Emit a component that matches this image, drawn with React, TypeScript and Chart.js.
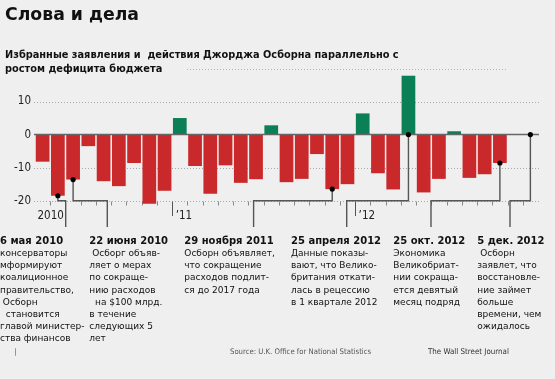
import React, { useEffect, useRef } from "react";
import { Chart, registerables } from "chart.js";

Chart.register(...registerables);

// ---------- DATA ----------
const months = [
  "апр 2010", "май 2010", "июн 2010", "июл 2010", "авг 2010", "сен 2010", "окт 2010", "ноя 2010", "дек 2010",
  "янв 2011", "фев 2011", "мар 2011", "апр 2011", "май 2011", "июн 2011", "июл 2011", "авг 2011", "сен 2011", "окт 2011", "ноя 2011", "дек 2011",
  "янв 2012", "фев 2012", "мар 2012", "апр 2012", "май 2012", "июн 2012", "июл 2012", "авг 2012", "сен 2012", "окт 2012", "ноя 2012", "дек 2012",
];

const deficitChange: (number | null)[] = [
  -8.2, -18.5, -13.6, -3.5, -14.1, -15.6, -8.6, -20.9, -17.0,
  5.0, -9.5, -17.9, -9.3, -14.6, -13.5, 2.8, -14.4, -13.4, -5.9, -16.5, -15.0,
  6.4, -11.7, -16.6, 17.8, -17.5, -13.4, 1.0, -13.1, -12.0, -8.6, null, null,
];

const yTicks = [-20, -10, 0, 10];
const yearLabels = ["2010", "’11", "’12"];
const yearStartIndex = [0, 9, 21];

const titleText = "Слова и дела";
const subtitleLines = [
  "Избранные заявления и  действия Джорджа Осборна параллельно с",
  "ростом дефицита бюджета",
];

const eventMonthIndex = [1, 2, 19, 24, 30, 32];
const eventDates = ["6 мая 2010", "22 июня 2010", "29 ноября 2011", "25 апреля 2012", "25 окт. 2012", "5 дек. 2012"];
const eventTexts: string[][] = [
  ["консерваторы", "мформируют", "коалиционное", "правительство,", " Осборн", "  становится", "главой министер-", "ства финансов"],
  [" Осборг объяв-", "ляет о мерах", "по сокраще-", "нию расходов", "  на $100 млрд.", "в течение", "следующих 5", "лет"],
  ["Осборн объявляет,", "что сокращение", "расходов подлит-", "ся до 2017 года"],
  ["Данные показы-", "вают, что Велико-", "британия откати-", "лась в рецессию", "в 1 квартале 2012"],
  ["Экономика", "Великобриат-", "нии сокраща-", "ется девятый", "месяц подряд"],
  [" Осборн", "заявлет, что", "восстановле-", "ние займет", "больше", "времени, чем", "ожидалось"],
];

const sourceText = "Source: U.K. Office for National Statistics";
const brandText = "The Wall Street Journal";

// ---------- LAYOUT (pixels) ----------
const W = 555;
const H = 379;
const eventTextX = [0, 89.3, 184.3, 291, 393.3, 477.3];
const eventDropX = [65.7, 107.3, 253.6, 346.7, 431, 510];
const dropBottomY = 227;
const textTopY = 241.5;
const textLineH = 12.2;

const RED = "#c9292b";
const GREEN = "#0b7f55";
const BG = "#efefef";
const NARROW = '"Liberation Sans Narrow", "DejaVu Sans Condensed", sans-serif';
const GEO = '"DejaVu Sans", sans-serif';

const decorPlugin = {
  id: "decor",
  beforeDatasetsDraw(chart: any) {
    const { ctx, chartArea, scales } = chart;
    const x = scales.x;
    const y = scales.y;
    const left = chartArea.left - 1;
    const right = chartArea.right + 1;
    ctx.save();
    // dotted gridlines
    ctx.strokeStyle = "#a8a8a8";
    ctx.lineWidth = 1;
    ctx.setLineDash([1, 2]);
    yTicks.forEach((v) => {
      if (v === 0) return;
      const py = Math.round(y.getPixelForValue(v)) + 0.5;
      ctx.beginPath();
      ctx.moveTo(left, py);
      ctx.lineTo(right, py);
      ctx.stroke();
    });
    ctx.setLineDash([]);
    // month ticks along the -20 line
    const base = Math.round(y.getPixelForValue(-20)) + 0.5;
    const step = x.getPixelForValue(1) - x.getPixelForValue(0);
    for (let i = 1; i < months.length; i++) {
      const px = Math.round(x.getPixelForValue(i) - step / 2) + 0.5;
      const isYear = yearStartIndex.indexOf(i) > 0;
      ctx.strokeStyle = isYear ? "#555" : "#888";
      ctx.lineWidth = 1;
      ctx.beginPath();
      ctx.moveTo(px, base);
      ctx.lineTo(px, base + (isYear ? 14.5 : 4));
      ctx.stroke();
    }
    // year labels
    ctx.fillStyle = "#222";
    ctx.font = `11.5px ${NARROW}`;
    ctx.textBaseline = "middle";
    yearLabels.forEach((lab, k) => {
      const i = yearStartIndex[k];
      if (k === 0) {
        ctx.textAlign = "center";
        ctx.fillText(lab, x.getPixelForValue(i) + step * 0.53, base + 14.5);
      } else {
        ctx.textAlign = "left";
        ctx.fillText(lab, x.getPixelForValue(i) - step / 2 + 3.5, base + 14.5);
      }
    });
    ctx.restore();
  },
  afterDatasetsDraw(chart: any) {
    const { ctx, chartArea, scales } = chart;
    const x = scales.x;
    const y = scales.y;
    ctx.save();
    // zero line
    const zy = y.getPixelForValue(0);
    ctx.strokeStyle = "#666";
    ctx.lineWidth = 1.5;
    ctx.beginPath();
    ctx.moveTo(chartArea.left - 1, zy);
    ctx.lineTo(chartArea.right + 1, zy);
    ctx.stroke();

    // leader lines and dots
    const base = y.getPixelForValue(-20);
    ctx.strokeStyle = "#555";
    ctx.lineWidth = 1.4;
    eventMonthIndex.forEach((mi, k) => {
      const v = deficitChange[mi];
      const anchor = v === null || v > 0 ? 0 : v;
      const px = x.getPixelForValue(mi);
      const py = y.getPixelForValue(anchor);
      const dx = eventDropX[k];
      ctx.beginPath();
      ctx.moveTo(px, py);
      ctx.lineTo(px, base);
      ctx.lineTo(dx, base);
      ctx.lineTo(dx, dropBottomY);
      ctx.stroke();
    });
    ctx.fillStyle = "#000";
    eventMonthIndex.forEach((mi) => {
      const v = deficitChange[mi];
      const anchor = v === null || v > 0 ? 0 : v;
      ctx.beginPath();
      ctx.arc(x.getPixelForValue(mi), y.getPixelForValue(anchor), 2.6, 0, Math.PI * 2);
      ctx.fill();
    });

    // annotation texts
    ctx.textAlign = "left";
    ctx.textBaseline = "middle";
    ctx.fillStyle = "#111";
    eventDates.forEach((d, k) => {
      ctx.font = `bold 10px ${GEO}`;
      ctx.fillText(d, eventTextX[k], textTopY);
      ctx.font = `9px ${GEO}`;
      eventTexts[k].forEach((line, j) => {
        ctx.fillText(line, eventTextX[k], textTopY + textLineH * (j + 1));
      });
    });

    // dotted rule after subtitle
    ctx.strokeStyle = "#b5b5b5";
    ctx.lineWidth = 1;
    ctx.setLineDash([1, 2]);
    ctx.beginPath();
    ctx.moveTo(187, 69.5);
    ctx.lineTo(508, 69.5);
    ctx.stroke();
    ctx.setLineDash([]);

    // footer
    ctx.fillStyle = "#555";
    ctx.font = `7.7px ${NARROW}`;
    ctx.fillText("|", 14.5, 352);
    ctx.fillText(sourceText, 230, 352);
    ctx.fillStyle = "#333";
    ctx.font = `7.9px ${NARROW}`;
    ctx.fillText(brandText, 428, 352);
    ctx.restore();
  },
};

export default function App() {
  const ref = useRef<HTMLCanvasElement | null>(null);

  useEffect(() => {
    if (!ref.current) return;
    const chart = new Chart(ref.current, {
      type: "bar",
      data: {
        labels: months,
        datasets: [
          {
            data: deficitChange,
            backgroundColor: deficitChange.map((v) => ((v ?? 0) >= 0 ? GREEN : RED)),
            borderWidth: 0,
            barPercentage: 0.9,
            categoryPercentage: 1,
          },
        ],
      },
      options: {
        animation: false,
        responsive: false,
        devicePixelRatio: 1,
        layout: { padding: { left: 5, right: 17, top: 0, bottom: 175 } },
        plugins: {
          legend: { display: false },
          tooltip: { enabled: false },
          title: {
            display: true,
            text: titleText,
            align: "start",
            color: "#111",
            font: { family: GEO, weight: "bold", size: 17.3, lineHeight: 1.2 },
            padding: { top: 5.1, bottom: 0 },
          },
          subtitle: {
            display: true,
            text: subtitleLines,
            align: "start",
            color: "#111",
            font: { family: GEO, weight: "bold", size: 9.8, lineHeight: "14.5px" },
            padding: { top: 22.2, bottom: -2 },
          },
        },
        scales: {
          x: { type: "category", display: false, offset: true },
          y: {
            min: -21,
            max: 18,
            grid: { display: false, drawTicks: false },
            border: { display: false },
            afterBuildTicks: (s: any) => {
              s.ticks = yTicks.map((v) => ({ value: v }));
            },
            afterFit: (s: any) => {
              s.width = 30;
            },
            ticks: {
              padding: 4,
              color: "#222",
              font: { family: NARROW, size: 11.5 },
            },
          },
        },
      },
      plugins: [decorPlugin],
    });
    return () => chart.destroy();
  }, []);

  return (
    <div style={{ position: "fixed", left: 0, top: 0, width: W, height: H, background: BG }}>
      <canvas ref={ref} width={W} height={H} style={{ display: "block", width: W, height: H }} />
    </div>
  );
}
